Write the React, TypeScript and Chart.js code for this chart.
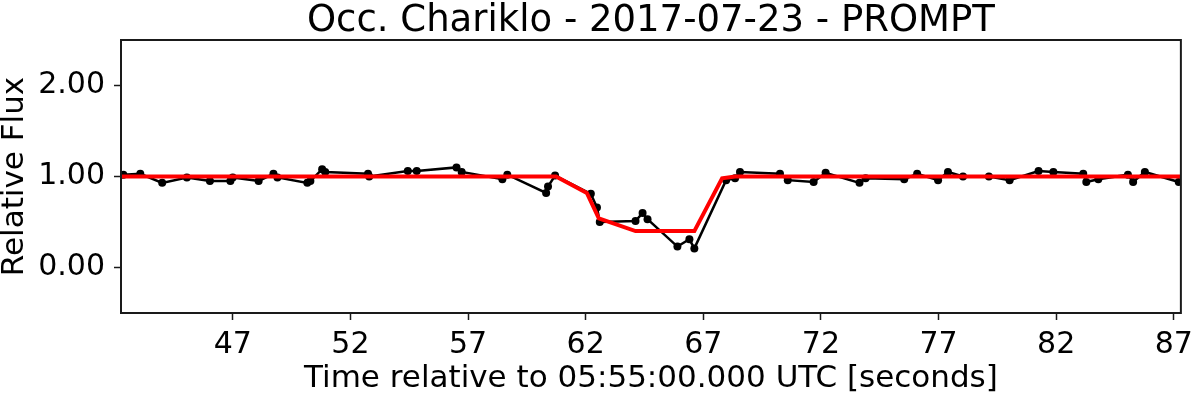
import React, { useEffect, useRef } from 'react';
import { Chart, registerables } from 'chart.js';

Chart.register(...registerables);

const titleText = 'Occ. Chariklo - 2017-07-23 - PROMPT';
const xAxisTitle = 'Time relative to 05:55:00.000 UTC [seconds]';
const yAxisTitle = 'Relative Flux';

const obsTime = [
  42.35, 43.07, 44.0, 45.05, 46.03, 46.9, 47.0, 48.1, 48.73, 48.9,
  50.17, 50.3, 50.8, 50.93, 52.75, 52.8, 54.44, 54.82, 56.51, 56.73,
  58.46, 58.67, 60.32, 60.4, 60.7, 62.22, 62.48, 62.6, 64.12, 64.42,
  64.63, 65.9, 66.41, 66.62, 67.97, 68.35, 68.56, 70.26, 70.59, 71.69,
  72.2, 73.64, 73.9, 75.54, 76.09, 76.98, 77.4, 78.04, 79.14, 80.02,
  81.25, 81.88, 83.15, 83.28, 83.79, 85.05, 85.27, 85.77, 87.21,
];
const obsFlux = [
  1.02, 1.03, 0.93, 0.99, 0.95, 0.95, 0.99, 0.95, 1.03, 0.99,
  0.93, 0.95, 1.08, 1.05, 1.03, 1.0, 1.06, 1.06, 1.1, 1.05,
  0.97, 1.02, 0.82, 0.89, 1.01, 0.81, 0.66, 0.5, 0.51, 0.6,
  0.53, 0.23, 0.31, 0.21, 0.96, 0.98, 1.05, 1.03, 0.96, 0.94,
  1.04, 0.93, 0.98, 0.97, 1.03, 0.96, 1.05, 1.0, 1.0, 0.96,
  1.06, 1.05, 1.03, 0.94, 0.97, 1.02, 0.94, 1.05, 0.94,
];

const modelTime = [42.25, 60.74, 62.05, 62.56, 64.12, 66.62, 67.8, 68.35, 87.3];
const modelFlux = [1.0, 1.0, 0.82, 0.54, 0.4, 0.4, 0.98, 1.0, 1.0];

const xTicks = [47, 52, 57, 62, 67, 72, 77, 82, 87];
const yTicks = [0, 1, 2];

const X_MIN = 42.25;
const X_MAX = 87.3;
const Y_MIN = -0.5;
const Y_MAX = 2.5;

const FONT = 'DejaVu Sans';

export default function App() {
  const ref = useRef<HTMLCanvasElement>(null);

  useEffect(() => {
    document.body.style.margin = '0';
    const canvas = ref.current!;

    const framePlugin = {
      id: 'frameAndTitle',
      afterDraw(chart: any) {
        const { ctx, chartArea: a } = chart;
        ctx.save();
        ctx.strokeStyle = '#1a1a1a';
        ctx.lineWidth = 2;
        ctx.strokeRect(a.left, a.top, a.right - a.left, a.bottom - a.top);
        ctx.fillStyle = '#000';
        ctx.font = `37px "${FONT}"`;
        ctx.textAlign = 'center';
        ctx.textBaseline = 'alphabetic';
        ctx.fillText(titleText, (a.left + a.right) / 2, 31);
        ctx.restore();
      },
    };

    const tickFont = { family: FONT, size: 30 };

    const chart = new Chart(canvas, {
      type: 'scatter',
      data: {
        datasets: [
          {
            label: 'model',
            data: modelTime.map((t, i) => ({ x: t, y: modelFlux[i] })),
            showLine: true,
            borderColor: '#ff0000',
            backgroundColor: '#ff0000',
            borderWidth: 4,
            pointRadius: 0,
            tension: 0,
          },
          {
            label: 'observed',
            data: obsTime.map((t, i) => ({ x: t, y: obsFlux[i] })),
            showLine: true,
            borderColor: '#000000',
            backgroundColor: '#000000',
            borderWidth: 2.5,
            pointRadius: 4,
            pointBorderWidth: 0,
            pointBackgroundColor: '#000000',
            tension: 0,
          },
        ],
      },
      options: {
        animation: false,
        responsive: false,
        maintainAspectRatio: false,
        layout: { padding: { left: 0, right: 14, top: 40, bottom: 0 } },
        plugins: {
          legend: { display: false },
          tooltip: { enabled: false },
          title: { display: false },
        },
        scales: {
          x: {
            type: 'linear',
            min: X_MIN,
            max: X_MAX,
            afterBuildTicks: (s: any) => {
              s.ticks = xTicks.map((v) => ({ value: v }));
            },
            afterFit: (s: any) => {
              s.height = 81;
            },
            ticks: {
              font: tickFont,
              color: '#000',
              padding: 7,
              maxRotation: 0,
              autoSkip: false,
              callback: (v: any) => String(v),
            },
            grid: {
              drawOnChartArea: false,
              drawTicks: true,
              tickLength: 7,
              tickWidth: 1.5,
              tickColor: '#1a1a1a',
            },
            border: { display: false },
            title: {
              display: true,
              text: xAxisTitle,
              color: '#000',
              font: { family: FONT, size: 31 },
              padding: { top: 0, bottom: -4 },
            },
          },
          y: {
            type: 'linear',
            min: Y_MIN,
            max: Y_MAX,
            afterBuildTicks: (s: any) => {
              s.ticks = yTicks.map((v) => ({ value: v }));
            },
            afterFit: (s: any) => {
              s.width = 121;
            },
            ticks: {
              font: tickFont,
              color: '#000',
              padding: 9,
              callback: (v: any) => Number(v).toFixed(2),
            },
            grid: {
              drawOnChartArea: false,
              drawTicks: true,
              tickLength: 7,
              tickWidth: 1.5,
              tickColor: '#1a1a1a',
            },
            border: { display: false },
            title: {
              display: true,
              text: yAxisTitle,
              color: '#000',
              font: { family: FONT, size: 31 },
              padding: { top: -4, bottom: 0 },
            },
          },
        },
      },
      plugins: [framePlugin],
    });

    return () => chart.destroy();
  }, []);

  return (
    <div style={{ position: 'absolute', left: 0, top: 0, width: 1200, height: 394 }}>
      <canvas ref={ref} width={1200} height={394} style={{ display: 'block' }} />
    </div>
  );
}
